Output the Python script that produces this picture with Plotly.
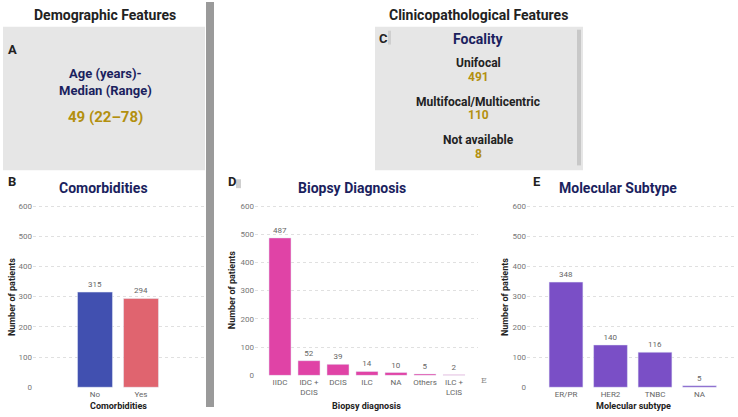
import plotly.graph_objects as go

W, H = 738, 417

# ---- data ----
age_label = "Age (years)-<br>Median (Range)"
age_value = "49 (22–78)"

focality_cats = ["Unifocal", "Multifocal/Multicentric", "Not available"]
focality_vals = [491, 110, 8]

comorb_cats = ["No", "Yes"]
comorb_vals = [315, 294]
comorb_colors = ["#4150b0", "#e0646f"]

biopsy_cats = ["IIDC", "IDC +<br>DCIS", "DCIS", "ILC", "NA", "Others", "ILC +<br>LCIS"]
biopsy_vals = [487, 52, 39, 14, 10, 5, 2]

subtype_cats = ["ER/PR", "HER2", "TNBC", "NA"]
subtype_vals = [348, 140, 116, 5]

y_ticks = [0, 100, 200, 300, 400, 500, 600]

NAVY = "#1b1f5e"
GOLD = "#b3900f"
FONT = "Roboto"

def px(x):
    return x / W

def py(y):
    return 1 - y / H

fig = go.Figure()

# bars
fig.add_trace(go.Bar(x=list(range(len(comorb_cats))), y=comorb_vals, marker_color=comorb_colors,
                     width=0.76, text=[str(v) for v in comorb_vals], textposition="outside",
                     textfont=dict(size=8, color="#666"), cliponaxis=False,
                     xaxis="x", yaxis="y", showlegend=False))
fig.add_trace(go.Bar(x=list(range(len(biopsy_cats))), y=biopsy_vals, marker_color="#e043a6",
                     width=0.76, text=[str(v) for v in biopsy_vals], textposition="outside",
                     textfont=dict(size=8, color="#666"), cliponaxis=False,
                     xaxis="x2", yaxis="y2", showlegend=False))
fig.add_trace(go.Bar(x=list(range(len(subtype_cats))), y=subtype_vals, marker_color="#7a4fc6",
                     width=0.76, text=[str(v) for v in subtype_vals], textposition="outside",
                     textfont=dict(size=8, color="#666"), cliponaxis=False,
                     xaxis="x3", yaxis="y3", showlegend=False))

def xax(domain, rng, cats):
    return dict(domain=domain, range=rng, tickvals=list(range(len(cats))), ticktext=cats,
                showgrid=False, zeroline=False, showline=False, ticks="",
                tickfont=dict(size=8, color="#666", family=FONT), fixedrange=True)

def yax(domain, rng, anchor):
    return dict(domain=domain, range=rng, tickvals=y_ticks, showgrid=True, gridcolor="#e0e0e0",
                griddash="dot", gridwidth=1, zeroline=False, showline=False, ticks="",
                tickfont=dict(size=8, color="#777", family=FONT), anchor=anchor, fixedrange=True)

# B: 0 at 391, 600 at 208
sB = (391 - 208) / 600
yB_dom = [py(391.5), py(203)]
yB_rng = [-(391.5 - 391) / sB, 600 + (208 - 203) / sB]
# D: 0 at 379, 600 at 208
sD = (379 - 208) / 600
yD_dom = [py(379.5), py(203)]
yD_rng = [-(379.5 - 379) / sD, 600 + (208 - 203) / sD]

fig.update_layout(
    width=W, height=H, margin=dict(l=0, r=0, t=0, b=0),
    paper_bgcolor="white", plot_bgcolor="rgba(0,0,0,0)",
    font=dict(family=FONT),
    bargap=0.2,
    xaxis=xax([px(33), px(205)], [-(95 - 33) / 46, 1 + (205 - 141) / 46], comorb_cats) | dict(anchor="y"),
    yaxis=yax(yB_dom, yB_rng, "x"),
    xaxis2=xax([px(255), px(478)], [-(280 - 255) / 29, (478 - 280) / 29], biopsy_cats) | dict(anchor="y2"),
    yaxis2=yax(yD_dom, yD_rng, "x2"),
    xaxis3=xax([px(527), px(737)], [-(566 - 527) / 44.5, (737 - 566) / 44.5], subtype_cats) | dict(anchor="y3"),
    yaxis3=yax(yB_dom, yB_rng, "x3"),
)

shapes = []
# Box A
shapes.append(dict(type="rect", xref="paper", yref="paper", x0=px(3), x1=px(205), y0=py(172), y1=py(27),
                   fillcolor="#e6e6e6", line=dict(width=0), layer="below"))
# Box C
shapes.append(dict(type="rect", xref="paper", yref="paper", x0=px(375), x1=px(583), y0=py(172), y1=py(27),
                   fillcolor="#e6e6e6", line=dict(width=0), layer="below"))
# scrollbar in C
shapes.append(dict(type="rect", xref="paper", yref="paper", x0=px(577), x1=px(581), y0=py(167), y1=py(30),
                   fillcolor="#c8c8c8", line=dict(width=0)))
# small grey markers next to C and D
shapes.append(dict(type="rect", xref="paper", yref="paper", x0=px(388), x1=px(391), y0=py(45), y1=py(31),
                   fillcolor="#cfcfcf", line=dict(width=0)))
shapes.append(dict(type="rect", xref="paper", yref="paper", x0=px(236), x1=px(241), y0=py(190), y1=py(181),
                   fillcolor="#cfcfcf", line=dict(width=0)))
# vertical divider
shapes.append(dict(type="rect", xref="paper", yref="paper", x0=px(206), x1=px(214), y0=py(411), y1=py(2),
                   fillcolor="#9a9a9a", line=dict(width=0)))
fig.update_layout(shapes=shapes)

ann = []
def text(x, y, t, size, color, bold=False, xanchor="center", angle=0, family=FONT):
    ann.append(dict(xref="paper", yref="paper", x=px(x), y=py(y), text=(f"<b>{t}</b>" if bold else t),
                    showarrow=False, xanchor=xanchor, yanchor="middle", textangle=angle,
                    font=dict(size=size, color=color, family=family)))

# headers
text(105, 15, "Demographic Features", 14, "#222", True)
text(478, 15, "Clinicopathological Features", 14, "#222", True)
# panel A
text(6, 50, "A", 13, "#222", True, xanchor="left")
text(105, 83, age_label, 13, NAVY, True)
text(105, 118, age_value, 15, GOLD, True)
# panel C
text(377, 39, "C", 13, "#222", True, xanchor="left")
text(478, 39, "Focality", 14, NAVY, True)
for i, (c, v) in enumerate(zip(focality_cats, focality_vals)):
    yy = 64 + i * 38.5
    text(478, yy, c, 12, "#222", True)
    text(478, yy + 14, str(v), 12, GOLD, True)
# panel titles
text(6, 183, "B", 13, "#222", True, xanchor="left")
text(103, 190, "Comorbidities", 14, NAVY, True)
text(226, 183, "D", 13, "#222", True, xanchor="left")
text(352, 190, "Biopsy Diagnosis", 14, NAVY, True)
text(531, 183, "E", 13, "#222", True, xanchor="left")
text(618, 190, "Molecular Subtype", 14, NAVY, True)
# axis titles
text(12, 300, "Number of patients", 9, "#222", True, angle=-90)
text(118, 410, "Comorbidities", 9, "#222", True)
text(232, 293, "Number of patients", 9, "#222", True, angle=-90)
text(366, 410, "Biopsy diagnosis", 9, "#222", True)
text(505, 300, "Number of patients", 9, "#222", True, angle=-90)
text(633, 410, "Molecular subtype", 9, "#222", True)
# stray label
text(484, 384, "E", 8, "#888", family="DejaVu Serif")
fig.update_layout(annotations=ann)

fig.write_html("out.html")
